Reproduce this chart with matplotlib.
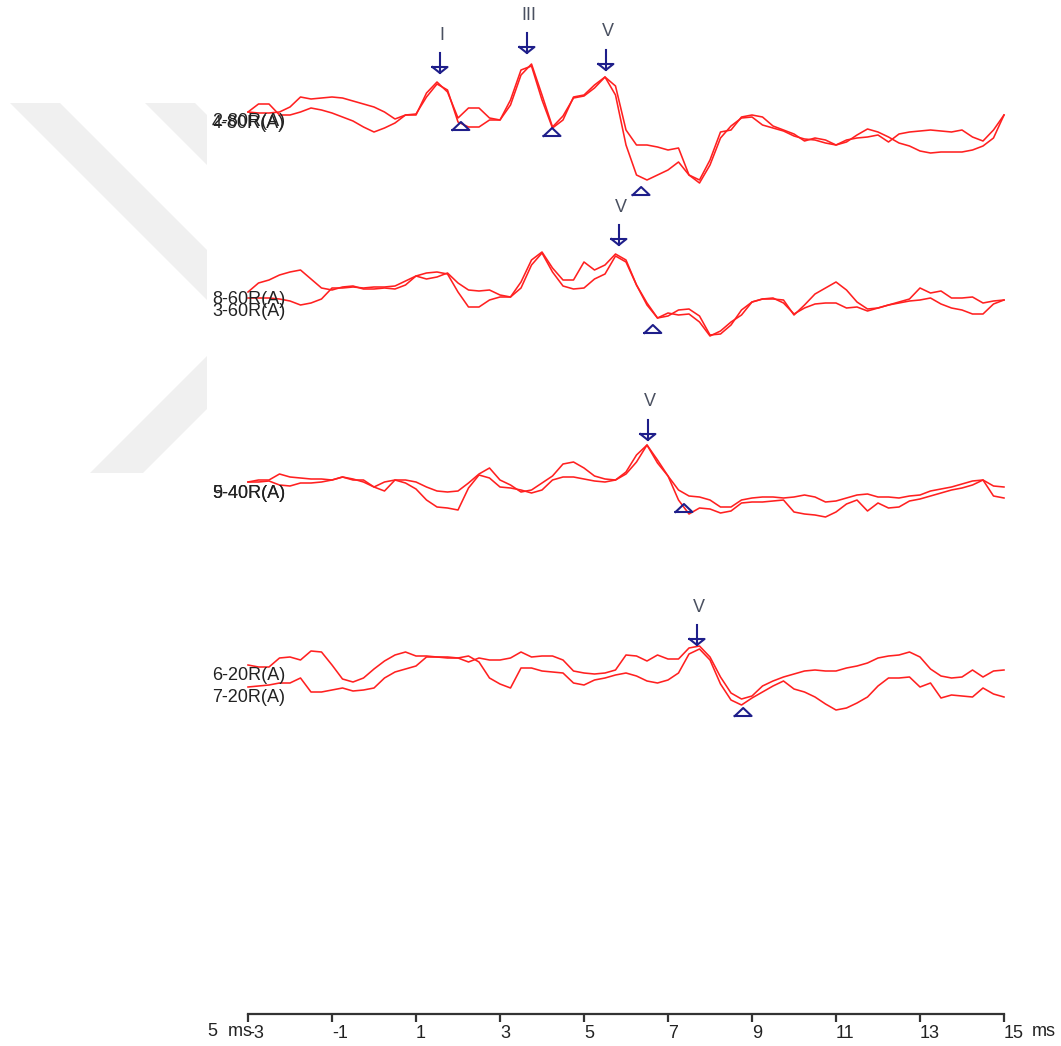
import numpy as np
import matplotlib
matplotlib.use("Agg")
import matplotlib.pyplot as plt
from matplotlib.patches import Polygon
from matplotlib import transforms

plt.rcParams['font.family'] = ['Liberation Sans', 'DejaVu Sans']

# time axis (ms), one sample every 0.25 ms
t = np.arange(-3, 15.001, 0.25)

# trace amplitudes (arbitrary units, positive up), two runs per intensity
amp_2_80 = [3, 2, 2, 3, 8, 18, 16, 17, 18, 17, 14, 11, 8, 3, -4, 0, 1, 18, 31, 25,
            -7, -12, -12, -5, -5, 10, 40, 51, 20, -12, -1, 17, 19, 27, 38, 29, -15, -30, -30, -32,
            -35, -33, -60, -65, -45, -17, -15, -2, 0, -2, -11, -15, -19, -26, -23, -25, -30, -25, -23, -22,
            -20, -27, -19, -17, -16, -15, -16, -17, -15, -22, -26, -15, 0]
amp_4_80 = [3, 11, 11, 0, 0, 3, 7, 5, 2, -2, -6, -12, -17, -13, -8, 0, 0, 22, 33, 23,
            -3, 7, 7, -3, -5, 15, 45, 49, 15, -13, -5, 18, 20, 30, 38, 20, -30, -60, -65, -60,
            -55, -47, -60, -68, -50, -23, -11, -3, -2, -10, -13, -16, -21, -24, -25, -28, -30, -27, -20, -14,
            -17, -22, -28, -31, -36, -38, -37, -37, -37, -35, -31, -23, 0]
amp_8_60 = [3, 12, 15, 20, 23, 25, 16, 7, 5, 8, 9, 6, 6, 7, 6, 10, 19, 16, 18, 22,
            12, 5, 4, 5, 0, -2, 13, 35, 43, 27, 15, 15, 33, 25, 30, 41, 35, 10, -8, -23,
            -21, -15, -14, -21, -40, -39, -30, -15, -7, -4, -3, -8, -19, -13, -9, -8, -8, -13, -12, -16,
            -13, -10, -8, -6, -5, -3, -9, -13, -15, -19, -19, -9, -5]
amp_3_60 = [-3, -3, -3, -4, -6, -10, -8, -4, 7, 7, 8, 7, 8, 8, 9, 14, 19, 22, 23, 21,
            3, -12, -12, -5, -2, -2, 7, 30, 42, 23, 9, 6, 7, 16, 21, 39, 33, 10, -10, -23,
            -18, -20, -19, -27, -41, -36, -27, -20, -7, -4, -4, -5, -20, -10, 1, 7, 13, 5, -7, -14,
            -13, -10, -7, -4, 7, 2, 4, -3, -3, -2, -8, -6, -5]
amp_9_40 = [3, 5, 5, 11, 8, 7, 6, 6, 5, 8, 5, 5, -2, -6, 5, 5, 3, -2, -6, -7,
            -6, 2, 11, 17, 5, 0, -7, -5, 2, 9, 21, 23, 17, 9, 6, 5, 13, 30, 40, 22,
            9, -5, -11, -12, -15, -22, -22, -15, -13, -12, -12, -13, -12, -10, -12, -17, -16, -13, -10, -9,
            -12, -12, -13, -11, -10, -6, -4, -2, 1, 4, 5, -1, -2]
amp_5_40 = [3, 3, 4, 0, -1, 2, 2, 3, 5, 8, 6, 3, -2, 3, 5, 2, -4, -15, -22, -23,
            -25, -3, 10, 7, -2, -3, -5, -8, -5, 5, 8, 8, 6, 4, 3, 5, 11, 23, 40, 25,
            9, -15, -29, -23, -24, -28, -26, -18, -17, -17, -16, -15, -27, -29, -30, -32, -27, -19, -15, -26,
            -18, -23, -22, -16, -14, -11, -8, -5, -3, 0, 5, -11, -13]
amp_6_20 = [10, 8, 8, 17, 18, 15, 24, 23, 10, -4, -7, -3, 6, 14, 20, 23, 19, 19, 18, 18,
            17, 13, 17, 15, 15, 17, 23, 18, 19, 19, 15, 4, 2, 1, 2, 5, 20, 19, 14, 20,
            16, 16, 27, 29, 18, -2, -18, -24, -21, -11, -6, -2, 1, 4, 5, 4, 4, 7, 9, 12,
            17, 19, 20, 23, 18, 6, -1, -3, -2, 5, -2, 4, 5]
amp_7_20 = [-12, -11, -10, -8, -8, -3, -17, -17, -15, -13, -16, -15, -13, -3, 3, 6, 9, 18, 18, 17,
            17, 19, 13, -3, -9, -13, 7, 7, 4, 3, 2, -8, -10, -5, -3, 0, 2, -1, -6, -8,
            -5, 2, 21, 26, 15, -9, -25, -30, -23, -17, -11, -6, -14, -17, -22, -29, -35, -33, -28, -22,
            -11, -3, -3, -2, -12, -8, -23, -20, -21, -22, -13, -19, -22]

trace_labels = [["2-80R(A)", "4-80R(A)"], ["8-60R(A)", "3-60R(A)"],
                ["9-40R(A)", "5-40R(A)"], ["6-20R(A)", "7-20R(A)"]]
traces = [[amp_2_80, amp_4_80], [amp_8_60, amp_3_60],
          [amp_9_40, amp_5_40], [amp_6_20, amp_7_20]]

# wave markers: (latency ms, amplitude, name)
peaks = [[(1.57, 42, "I"), (3.64, 62, "III"), (5.52, 45, "V")],
         [(5.83, 50, "V")],
         [(6.52, 45, "V")],
         [(7.69, 30, "V")]]
troughs = [[(2.07, -11), (4.24, -17), (6.36, -76)],
           [(6.64, -34)],
           [(7.38, -23)],
           [(8.79, -37)]]

xticks = [-3, -1, 1, 3, 5, 7, 9, 11, 13, 15]

# layout
W, H = 1061, 1046
levels = [899, 719, 529, 339]
label_dy = [[-6, -9], [-5, -16], [-8, -8], [-1, -23]]
RED = '#ff2020'
NAVY = '#1e1e8a'
TXT = '#222222'

fig = plt.figure(figsize=(W / 100, H / 100), dpi=100)

# faint chevron in the left margin
grey = '#f0f0f0'
for pts in ([(10, 103), (60, 103), (207, 250), (207, 300)],
            [(145, 103), (195, 103), (207, 115), (207, 165)],
            [(90, 473), (143, 473), (207, 409), (207, 356)]):
    xy = [(x / W, 1 - y / H) for x, y in pts]
    fig.patches.append(Polygon(xy, closed=True, transform=fig.transFigure,
                               facecolor=grey, edgecolor='none', zorder=0))

ax = fig.add_axes([248 / W, 32 / H, 756 / W, 1014 / H])
ax.set_xlim(-3, 15)
ax.set_ylim(0, 1014)
ax.patch.set_alpha(0)
for s in ['top', 'right', 'left']:
    ax.spines[s].set_visible(False)
ax.spines['bottom'].set_linewidth(1.6)
ax.spines['bottom'].set_color('#333333')
ax.set_yticks([])
ax.set_xticks(xticks)
ax.set_xticklabels([str(v) for v in xticks], ha='left')
ax.tick_params(axis='x', direction='out', length=6, width=1.6, color='#333333',
               labelsize=13, labelcolor=TXT, pad=2)

# waveforms
for lvl, pair in zip(levels, traces):
    for amp in pair:
        ax.plot(t, lvl + np.array(amp), color=RED, lw=1.15, clip_on=False)

# trace names on the left
lab_tr = transforms.blended_transform_factory(fig.transFigure, ax.transData)
for lvl, names, dys in zip(levels, trace_labels, label_dy):
    for name, dy in zip(names, dys):
        ax.text(212 / W, lvl + dy, name, transform=lab_tr, fontsize=13,
                color=TXT, ha='left', va='center')

# peak arrows
hw = 0.18
for lvl, plist in zip(levels, peaks):
    for lat, a, name in plist:
        tip = lvl + a
        ax.plot([lat, lat], [tip, tip + 20], color=NAVY, lw=1.5)
        ax.plot([lat - hw, lat + hw, lat, lat - hw],
                [tip + 6, tip + 6, tip, tip + 6], color=NAVY, lw=1.5)
        ax.text(lat + 0.05, tip + 38, name, fontsize=13, color='#4a5060',
                ha='center', va='center')

# trough triangles
for lvl, tlist in zip(levels, troughs):
    for lat, a in tlist:
        c = lvl + a
        ax.plot([lat - 0.2, lat + 0.2, lat, lat - 0.2],
                [c - 4, c - 4, c + 4, c - 4], color=NAVY, lw=1.5)

# axis units
fig.text(208 / W, 1 - 1032 / H, "5  ms", fontsize=13, color=TXT, ha='left', va='center')
fig.text(1032 / W, 1 - 1032 / H, "ms", fontsize=13, color=TXT, ha='left', va='center')

fig.savefig('out.png', dpi=100)
